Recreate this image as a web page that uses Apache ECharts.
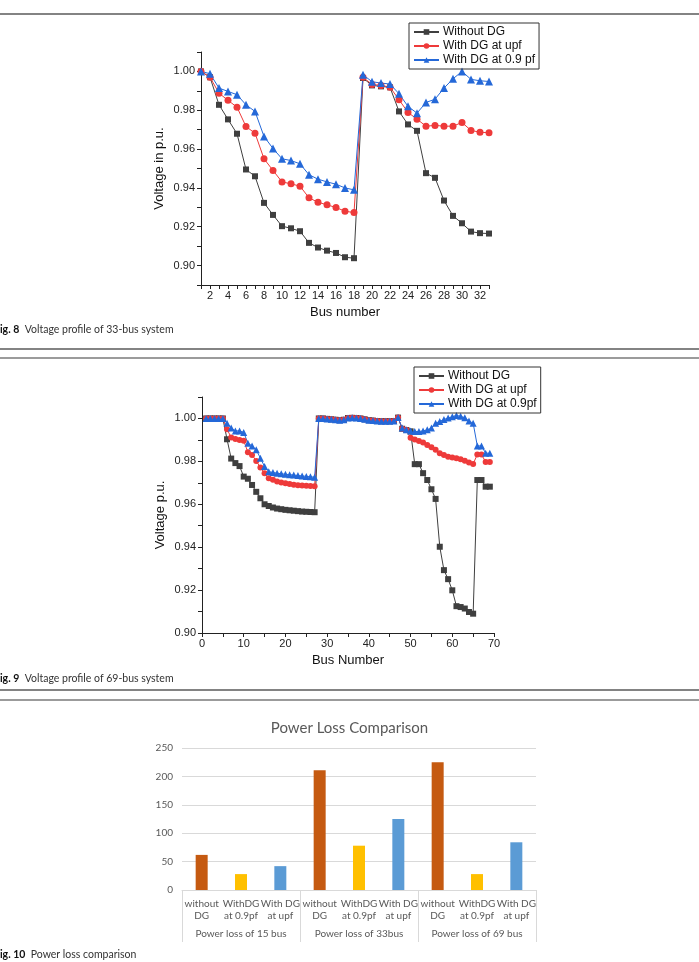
<!DOCTYPE html>
<html>
<head>
<meta charset="utf-8">
<script src="https://cdn.jsdelivr.net/npm/echarts@6/dist/echarts.min.js"></script>
<style>
html, body { margin: 0; padding: 0; background: #fff; }
#main { width: 699px; height: 962px; }
</style>
</head>
<body>
<div id="main"></div>
<script>
var dom = document.getElementById('main');
var myChart = echarts.init(dom, null, { renderer: 'canvas' });

// ---- Fig. 8 : 33-bus voltage profile ----
var names33 = ['Without DG', 'With DG at upf', 'With DG at 0.9 pf'];
var noDG33 = [1.0000, 0.9970, 0.9828, 0.9753, 0.9679, 0.9495, 0.9460, 0.9323, 0.9261, 0.9203, 0.9192,
  0.9177, 0.9117, 0.9093, 0.9077, 0.9065, 0.9043, 0.9038, 0.9966, 0.9928, 0.9923, 0.9918, 0.9794,
  0.9727, 0.9694, 0.9476, 0.9452, 0.9335, 0.9256, 0.9218, 0.9175, 0.9167, 0.9165];
var upf33 = [1.0000, 0.9970, 0.9888, 0.9851, 0.9816, 0.9716, 0.9682, 0.9550, 0.9490, 0.9431, 0.9421,
  0.9409, 0.9349, 0.9326, 0.9313, 0.9299, 0.9280, 0.9273, 0.9970, 0.9933, 0.9928, 0.9919, 0.9854,
  0.9789, 0.9754, 0.9718, 0.9722, 0.9718, 0.9718, 0.9737, 0.9696, 0.9687, 0.9684];
var pf33 = [1.0000, 0.9988, 0.9914, 0.9897, 0.9880, 0.9828, 0.9794, 0.9665, 0.9603, 0.9550, 0.9541,
  0.9524, 0.9468, 0.9445, 0.9431, 0.9419, 0.9400, 0.9390, 0.9983, 0.9947, 0.9940, 0.9935, 0.9885,
  0.9820, 0.9785, 0.9840, 0.9857, 0.9914, 0.9962, 1.0000, 0.9959, 0.9952, 0.9948];

// ---- Fig. 9 : 69-bus voltage profile ----
var names69 = ['Without DG', 'With DG at upf', 'With DG at 0.9pf'];
var noDG69 = [1.0000, 1.0000, 1.0000, 1.0000, 1.0000, 0.9903, 0.9813, 0.9792, 0.9778, 0.9729,
  0.9719, 0.9690, 0.9658, 0.9628, 0.9600, 0.9592, 0.9585, 0.9580, 0.9577, 0.9574,
  0.9572, 0.9570, 0.9568, 0.9566, 0.9565, 0.9564, 0.9563, 1.0000, 1.0000, 0.9998,
  0.9996, 0.9994, 0.9992, 0.9994, 1.0002, 1.0003, 1.0002, 1.0000, 0.9996, 0.9992,
  0.9990, 0.9988, 0.9987, 0.9987, 0.9987, 0.9988, 1.0004, 0.9952, 0.9946, 0.9940,
  0.9787, 0.9787, 0.9745, 0.9713, 0.9670, 0.9625, 0.9402, 0.9293, 0.9251, 0.9199,
  0.9125, 0.9121, 0.9114, 0.9098, 0.9090, 0.9713, 0.9713, 0.9682, 0.9682];
var upf69 = [1.0000, 1.0000, 1.0000, 1.0000, 1.0000, 0.9950, 0.9911, 0.9904, 0.9900, 0.9896,
  0.9843, 0.9830, 0.9802, 0.9771, 0.9745, 0.9721, 0.9714, 0.9706, 0.9702, 0.9698,
  0.9694, 0.9691, 0.9689, 0.9687, 0.9686, 0.9685, 0.9684, 1.0000, 1.0000, 0.9998,
  0.9996, 0.9994, 0.9992, 0.9994, 1.0002, 1.0003, 1.0002, 1.0000, 0.9996, 0.9992,
  0.9990, 0.9988, 0.9987, 0.9987, 0.9987, 0.9988, 1.0004, 0.9952, 0.9946, 0.9910,
  0.9902, 0.9895, 0.9888, 0.9876, 0.9866, 0.9854, 0.9838, 0.9830, 0.9822, 0.9818,
  0.9814, 0.9810, 0.9803, 0.9795, 0.9788, 0.9832, 0.9832, 0.9797, 0.9797];
var pf69 = [1.0000, 1.0000, 1.0000, 1.0000, 1.0000, 0.9978, 0.9955, 0.9942, 0.9942, 0.9935,
  0.9885, 0.9872, 0.9854, 0.9815, 0.9776, 0.9752, 0.9748, 0.9745, 0.9742, 0.9740,
  0.9738, 0.9736, 0.9734, 0.9732, 0.9730, 0.9728, 0.9726, 1.0000, 1.0000, 0.9998,
  0.9996, 0.9994, 0.9992, 0.9994, 1.0002, 1.0003, 1.0002, 1.0000, 0.9996, 0.9992,
  0.9990, 0.9988, 0.9987, 0.9987, 0.9987, 0.9988, 1.0004, 0.9955, 0.9947, 0.9942,
  0.9939, 0.9939, 0.9942, 0.9947, 0.9955, 0.9978, 0.9986, 0.9995, 1.0002, 1.0008,
  1.0014, 1.0010, 1.0003, 0.9988, 0.9978, 0.9872, 0.9872, 0.9838, 0.9838];

// ---- Fig. 10 : power loss bars ----
var lossLabels = ['without\nDG', 'WithDG\nat 0.9pf', 'With DG\nat upf',
  'without\nDG', 'WithDG\nat 0.9pf', 'With DG\nat upf',
  'without\nDG', 'WithDG\nat 0.9pf', 'With DG\nat upf'];
var lossGroups = ['Power loss of 15 bus', 'Power loss of 33bus', 'Power loss of 69 bus'];
var lossValues = [61.8, 28, 42, 211, 78, 125, 225, 28, 84];
var yTicks = [0, 50, 100, 150, 200, 250];

const blackC = '#3f3f3f';
const redC = '#ee3a3a';
const blueC = '#2468d8';
const barColors = ['#c55a11', '#ffc000', '#5b9bd5'];
const arial = 'Liberation Sans';

function toPairs(arr) {
    var out = [];
    for (var i = 0; i < arr.length; i++) out.push([i + 1, arr[i]]);
    return out;
}
function voltLabel(v) {
    var k = Math.round(v * 100);
    if (k % 2 === 0 && k >= 90 && k <= 100) return (k / 100).toFixed(2);
    return '';
}
function lineSeries(name, data, xi, symbol, size, color) {
    return {
        name: name,
        type: 'line',
        xAxisIndex: xi,
        yAxisIndex: xi,
        data: toPairs(data),
        symbol: symbol,
        symbolSize: size,
        showAllSymbol: true,
        itemStyle: { color: color },
        lineStyle: { color: color, width: 1 },
        emphasis: { disabled: true }
    };
}
function voltAxisX(grid, min, max, step, name, evenOnly) {
    return {
        type: 'value', gridIndex: grid, min: min, max: max, interval: step,
        name: name, nameLocation: 'middle', nameGap: 21,
        nameTextStyle: { fontFamily: arial, fontSize: 13, color: '#111' },
        axisLine: { onZero: false, lineStyle: { color: '#222', width: 1 } },
        axisTick: { length: 4, lineStyle: { color: '#222' } },
        axisLabel: {
            margin: 5, fontFamily: arial, fontSize: 11, color: '#222',
            formatter: function (v) { return (v % evenOnly === 0) ? String(v) : ''; }
        },
        splitLine: { show: false }
    };
}
function voltAxisY(grid, name) {
    return {
        type: 'value', gridIndex: grid, min: 0.89, max: 1.01, interval: 0.01,
        name: name, nameLocation: 'middle', nameGap: 35,
        nameTextStyle: { fontFamily: arial, fontSize: 13, color: '#111' },
        axisLine: { show: true, onZero: false, lineStyle: { color: '#222', width: 1 } },
        axisTick: { length: 4, lineStyle: { color: '#222' } },
        axisLabel: { margin: 6, fontFamily: arial, fontSize: 11, color: '#222', formatter: voltLabel },
        splitLine: { show: false }
    };
}
function legendBox(names, left, top) {
    return {
        data: names, left: left, top: top, orient: 'vertical',
        itemGap: 2, itemWidth: 25, itemHeight: 7,
        padding: [3, 4, 3, 4], borderColor: '#333', borderWidth: 1,
        selectedMode: false,
        textStyle: { fontFamily: arial, fontSize: 12, color: '#111', padding: [0, 0, 0, -1] }
    };
}
function caption(y, num, text) {
    return {
        type: 'text', left: -6, top: y,
        style: {
            text: '{b|Fig. ' + num + '}  ' + text,
            font: '10.5px Lato', fill: '#333',
            rich: { b: { fontFamily: 'Lato', fontWeight: 'bold', fontSize: 10.5, fill: '#111' } }
        }
    };
}
function rule(y, color) {
    return { type: 'line', shape: { x1: 0, y1: y, x2: 699, y2: y }, style: { stroke: color, lineWidth: 1.5 } };
}

var y69 = voltAxisY(1, 'Voltage p.u.');
y69.min = 0.90;

var option = {
    animation: false,
    title: {
        text: 'Power Loss Comparison', left: 'center', top: 716,
        textStyle: { fontFamily: 'Lato', fontSize: 15, fontWeight: 'normal', color: '#595959' }
    },
    legend: [legendBox(names33, 409, 23), legendBox(names69, 414, 367)],
    grid: [
        { left: 201, top: 52, width: 288, height: 233 },
        { left: 202, top: 397, width: 292, height: 236 },
        { left: 182, top: 748, width: 354, height: 142 }
    ],
    xAxis: [
        voltAxisX(0, 1, 33, 1, 'Bus number', 2),
        voltAxisX(1, 0, 70, 5, 'Bus Number', 10),
        {
            type: 'category', gridIndex: 2, data: lossLabels,
            axisLine: { lineStyle: { color: '#d9d9d9' } },
            axisTick: { show: false },
            axisLabel: { interval: 0, margin: 8, fontFamily: 'Lato', fontSize: 10, color: '#595959', lineHeight: 12 }
        },
        {
            type: 'category', gridIndex: 2, data: lossGroups, position: 'bottom',
            axisLine: { show: false },
            axisTick: { show: true, length: 52, lineStyle: { color: '#d9d9d9' } },
            axisLabel: { interval: 0, margin: 39, fontFamily: 'Lato', fontSize: 10, color: '#595959' }
        }
    ],
    yAxis: [
        voltAxisY(0, 'Voltage in p.u.'),
        y69,
        {
            type: 'value', gridIndex: 2, min: 0, max: 250, interval: 50,
            axisLine: { show: false }, axisTick: { show: false },
            axisLabel: {
                margin: 9, fontFamily: 'Lato', fontSize: 10, color: '#595959',
                formatter: function (v) { return yTicks.indexOf(v) >= 0 ? String(v) : ''; }
            },
            splitLine: { lineStyle: { color: '#d9d9d9' } }
        }
    ],
    series: [
        lineSeries(names33[0], noDG33, 0, 'rect', 6, blackC),
        lineSeries(names33[1], upf33, 0, 'circle', 7, redC),
        lineSeries(names33[2], pf33, 0, 'triangle', 8, blueC),
        lineSeries(names69[0], noDG69, 1, 'rect', 6, blackC),
        lineSeries(names69[1], upf69, 1, 'circle', 6, redC),
        lineSeries(names69[2], pf69, 1, 'triangle', 7, blueC),
        {
            name: 'Power loss', type: 'bar', xAxisIndex: 2, yAxisIndex: 2,
            data: lossValues, barWidth: 12,
            itemStyle: { color: function (p) { return barColors[p.dataIndex % 3]; } },
            emphasis: { disabled: true }
        }
    ],
    graphic: [
        rule(14, '#5a5a5a'),
        caption(324, 8, 'Voltage profile of 33-bus system'),
        rule(349, '#5a5a5a'),
        rule(358, '#7a7a7a'),
        caption(673, 9, 'Voltage profile of 69-bus system'),
        rule(690, '#5a5a5a'),
        rule(700, '#7a7a7a'),
        caption(949, 10, 'Power loss comparison')
    ]
};

myChart.setOption(option);
window.addEventListener('resize', myChart.resize);
</script>
</body>
</html>
